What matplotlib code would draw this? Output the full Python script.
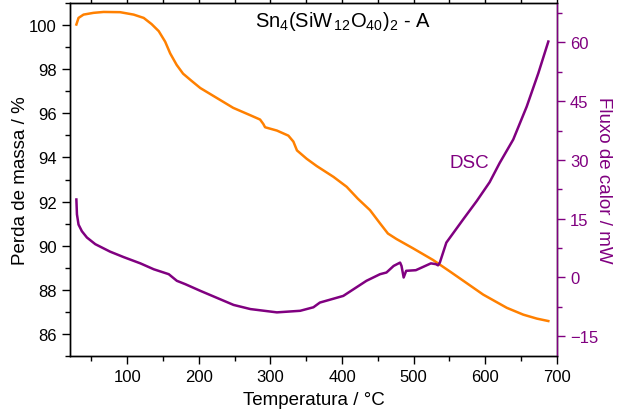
import matplotlib
matplotlib.use("Agg")
import matplotlib.pyplot as plt
from matplotlib.ticker import MultipleLocator

plt.rcParams['font.family'] = ['Liberation Sans', 'DejaVu Sans']
plt.rcParams['mathtext.fontset'] = 'custom'
plt.rcParams['mathtext.rm'] = 'Liberation Sans'
plt.rcParams['mathtext.it'] = 'Liberation Sans'
plt.rcParams['mathtext.default'] = 'regular'

# TGA (mass loss, %)
tga_T = [29, 32, 39, 53, 67, 90, 109, 123, 134, 144, 153, 160, 169, 178, 190, 202,
         225, 248, 271.5, 285.5, 290, 292.5, 309, 325, 332, 337, 350.6, 364.6, 388,
         406.4, 422, 439, 453, 464, 476, 499, 527, 550.5, 574, 597, 630, 653, 672, 688]
tga_m = [100.03, 100.33, 100.48, 100.56, 100.6, 100.59, 100.48, 100.33, 100.05, 99.73,
         99.25, 98.72, 98.2, 97.8, 97.47, 97.15, 96.7, 96.25, 95.92, 95.72, 95.52,
         95.37, 95.22, 94.99, 94.72, 94.32, 93.94, 93.61, 93.12, 92.67, 92.13, 91.61,
         91.01, 90.55, 90.3, 89.88, 89.35, 88.83, 88.3, 87.78, 87.18, 86.87, 86.69, 86.58]

# DSC (heat flow, mW)
dsc_T = [29, 29.8, 32, 36.7, 43.7, 55.4, 76, 95, 118.4, 137, 158, 169.3, 181, 202,
         248.5, 272, 309, 341.5, 360, 369, 401.7, 434, 453, 462, 472, 481, 483, 486,
         489.5, 503, 524, 531, 534, 536.5, 545.6, 569, 588, 606, 620, 639, 657.8,
         674, 688]
dsc_q = [19.9, 16.1, 13.5, 11.8, 10.2, 8.5, 6.6, 5.2, 3.6, 2.1, 0.84, -0.85, -1.7, -3.4,
         -7.0, -8.06, -8.9, -8.5, -7.6, -6.4, -4.7, -0.85, 0.84, 1.27, 2.95, 3.8, 2.95,
         0.0, 1.7, 1.86, 3.6, 3.4, 3.1, 3.8, 8.9, 14.8, 19.5, 24.3, 29.2, 35.2, 43.6,
         52.1, 60.2]

orange = '#FF8000'
purple = '#800080'

fig = plt.figure(figsize=(6.3, 4.14), dpi=100)
ax = fig.add_axes([0.111, 0.138, 0.773, 0.852])
ax2 = ax.twinx()

ax.plot(tga_T, tga_m, color=orange, lw=1.8)
ax2.plot(dsc_T, dsc_q, color=purple, lw=1.8)

ax.set_xlim(20, 700)
ax.set_ylim(85, 101)
ax2.set_ylim(-20, 70)

ax.xaxis.set_major_locator(MultipleLocator(100))
ax.xaxis.set_minor_locator(MultipleLocator(50))
ax.yaxis.set_major_locator(MultipleLocator(2))
ax.yaxis.set_minor_locator(MultipleLocator(1))
ax2.yaxis.set_major_locator(MultipleLocator(15))
ax2.yaxis.set_minor_locator(MultipleLocator(7.5))

ax.tick_params(axis='x', which='both', direction='out', top=True, labelsize=12)
ax.tick_params(axis='y', which='both', direction='out', labelsize=12)
for a in (ax, ax2):
    a.tick_params(which='major', length=6, width=1.0)
    a.tick_params(which='minor', length=3.5, width=1.0)
ax2.tick_params(axis='y', which='both', direction='out', colors=purple, labelsize=12)
ax.set_xticks([100, 200, 300, 400, 500, 600, 700])

for a in (ax, ax2):
    for s in a.spines.values():
        s.set_linewidth(1.0)
ax2.spines['right'].set_color(purple)

ax.set_xlabel('Temperatura / °C', fontsize=13.5, labelpad=5)
ax.set_ylabel('Perda de massa / %', fontsize=13.5, labelpad=0)
ax2.set_ylabel('Fluxo de calor / mW', fontsize=13.5, color=purple, rotation=270, labelpad=10)

ax.text(0.38, 0.951, r'Sn$_4$(SiW$_{\,12}$O$_{40}$)$_2$ - A', transform=ax.transAxes,
        fontsize=14.5, ha='left', va='center')
ax2.text(578, 28.3, 'DSC', color=purple, fontsize=13.5, ha='center', va='baseline')

fig.savefig('out.png', dpi=100)
